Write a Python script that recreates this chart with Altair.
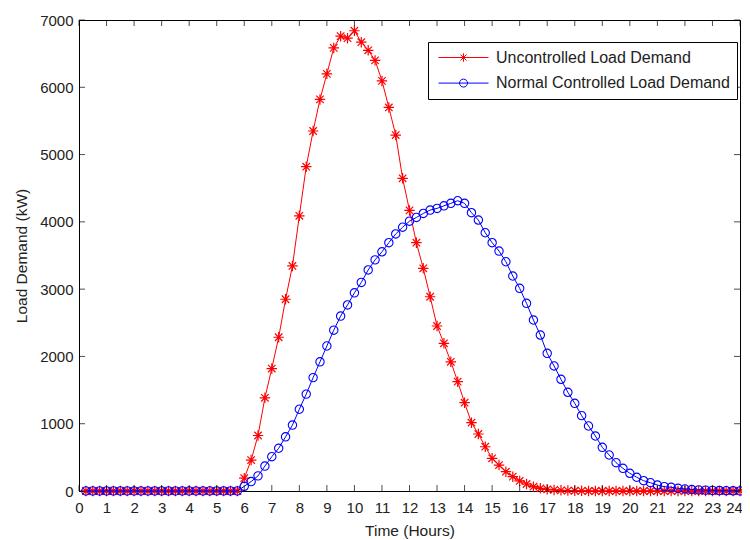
import altair as alt
import pandas as pd

UNC = "Uncontrolled Load Demand"
CTL = "Normal Controlled Load Demand"

# time grid, 15-minute steps from 0.25 h to 24 h
hours = [0.25 * i for i in range(1, 97)]

# Uncontrolled load demand (kW)
uncontrolled = [0] * 23 + [
    190, 460, 825, 1385, 1820, 2285, 2850, 3345, 4090, 4820,
    5350, 5820, 6200, 6585, 6760, 6730, 6840, 6670, 6550, 6400,
    6095, 5700, 5290, 4647, 4170, 3690, 3310, 2887, 2452, 2195,
    1920, 1625, 1312, 1015, 847, 658, 486, 386, 287, 213,
    149, 104, 64, 40, 25, 16, 10, 6, 4, 2,
] + [0] * 23

# Normal controlled load demand (kW)
controlled = [0] * 23 + [
    70, 140, 225, 370, 510, 635, 805, 980, 1215, 1440,
    1685, 1920, 2155, 2390, 2600, 2765, 2945, 3100, 3285, 3435,
    3555, 3690, 3820, 3920, 4010, 4065, 4125, 4175, 4200, 4238,
    4275, 4314, 4275, 4136, 4027, 3838, 3690, 3566, 3407, 3195,
    3012, 2789, 2541, 2318, 2046, 1858, 1660, 1467, 1303, 1120,
    966, 817, 649, 535, 421, 337, 263, 204, 153, 123,
    89, 64, 55, 40, 30, 22, 16, 12, 9, 6,
    4, 3, 2,
]

x_ticks = list(range(0, 25))
y_ticks = list(range(0, 7001, 1000))

series_names = [UNC, CTL]
series_colors = ["#ff0000", "#0000ff"]

STAR = "M-1,0L1,0M0,-1L0,1M-0.71,-0.71L0.71,0.71M-0.71,0.71L0.71,-0.71"
LEG_STAR = "M-1,0L1,0M-0.17,0L0.17,0M0,-0.17L0,0.17M-0.12,-0.12L0.12,0.12M-0.12,0.12L0.12,-0.12"
LEG_CIRC = "M-1,0L1,0M-0.16,0A0.16,0.16 0 1,0 0.16,0A0.16,0.16 0 1,0 -0.16,0"

df = pd.DataFrame({
    "t": hours + hours,
    "value": uncontrolled + controlled,
    "series": [UNC] * len(hours) + [CTL] * len(hours),
})
xt_df = pd.DataFrame({"xt": x_ticks})
yt_df = pd.DataFrame({"yt": y_ticks})

TXT = "#222222"
x_scale = alt.Scale(domain=[0, 24], nice=False, zero=False)
y_scale = alt.Scale(domain=[0, 7000], nice=False)

x_axis = alt.Axis(values=x_ticks, title="Time (Hours)", tickSize=0, labelPadding=9,
                  titlePadding=8, labelFlush=False, labelOverlap=False, grid=False, format="d",
                  labelOffset={"condition": {"test": "datum.value == 24", "value": -6}, "value": 0},
                  domainColor="black", domainWidth=1, labelFontSize=15, titleFontSize=15.5,
                  titleFontWeight="normal", labelColor=TXT, titleColor=TXT)
y_axis = alt.Axis(values=y_ticks, title="Load Demand (kW)", tickSize=0, labelPadding=6,
                  titlePadding=10, labelFlush=False, labelOverlap=False, grid=False, format="d",
                  domainColor="black", domainWidth=1, labelFontSize=15, titleFontSize=15.5,
                  titleFontWeight="normal", labelColor=TXT, titleColor=TXT)

x_enc = alt.X("t:Q", scale=x_scale, axis=x_axis, title="Time (Hours)")
y_enc = alt.Y("value:Q", scale=y_scale, axis=y_axis, title="Load Demand (kW)")

base = alt.Chart(df)

red_line = base.transform_filter(alt.datum.series == UNC).mark_line(
    color="#ff0000", strokeWidth=1).encode(x=x_enc, y=y_enc)
red_pts = base.transform_filter(alt.datum.series == UNC).mark_point(
    shape=STAR, filled=False, size=110, color="#ff0000", strokeWidth=1.2, opacity=1
).encode(x=x_enc, y=y_enc)
blue_line = base.transform_filter(alt.datum.series == CTL).mark_line(
    color="#0000ff", strokeWidth=1).encode(x=x_enc, y=y_enc)
blue_pts = base.transform_filter(alt.datum.series == CTL).mark_point(
    shape="circle", filled=False, size=70, color="#0000ff", strokeWidth=1.1, opacity=1
).encode(x=x_enc, y=y_enc)

leg = alt.Legend(
    title=None, orient="none", legendX=349, legendY=22, direction="vertical",
    strokeColor="black", fillColor="white", padding=7, clipHeight=17, rowPadding=8.6,
    symbolSize=2500, symbolStrokeWidth=1, symbolOffset=3, labelOffset=7,
    labelFontSize=16, labelColor=TXT, labelLimit=400,
)
legend_layer = base.transform_filter("datum.value < 0").mark_point(
    filled=False, strokeWidth=1, opacity=1
).encode(
    x=x_enc, y=y_enc,
    color=alt.Color("series:N", scale=alt.Scale(domain=series_names, range=series_colors), legend=leg),
    shape=alt.Shape("series:N", scale=alt.Scale(domain=series_names, range=[LEG_STAR, LEG_CIRC]), legend=leg),
)

tx = alt.X("xt:Q", scale=x_scale, axis=x_axis, title="Time (Hours)")
ty = alt.Y("yt:Q", scale=y_scale, axis=y_axis, title="Load Demand (kW)")

tick_bottom = alt.Chart(xt_df).mark_tick(orient="vertical", size=6, thickness=1, color="black", yOffset=-3).encode(
    x=tx, y=alt.YDatum(0, scale=y_scale, axis=y_axis, title="Load Demand (kW)"))
tick_top = alt.Chart(xt_df).mark_tick(orient="vertical", size=6, thickness=1, color="black", yOffset=3).encode(
    x=tx, y=alt.YDatum(7000, scale=y_scale, axis=y_axis, title="Load Demand (kW)"))
tick_left = alt.Chart(yt_df).mark_tick(orient="horizontal", size=6, thickness=1, color="black", xOffset=3).encode(
    y=ty, x=alt.XDatum(0, scale=x_scale, axis=x_axis, title="Time (Hours)"))
tick_right = alt.Chart(yt_df).mark_tick(orient="horizontal", size=6, thickness=1, color="black", xOffset=-3).encode(
    y=ty, x=alt.XDatum(24, scale=x_scale, axis=x_axis, title="Time (Hours)"))

chart = alt.layer(
    red_line, red_pts, blue_line, blue_pts, legend_layer,
    tick_bottom, tick_top, tick_left, tick_right,
).properties(
    width=661, height=471,
    padding={"left": 71, "top": 12, "right": 2, "bottom": 48},
    autosize=alt.AutoSizeParams(type="none"),
).configure(font="Liberation Sans").configure_view(stroke="black", strokeWidth=1)

chart.save("out.html", embed_options={"renderer": "svg", "actions": False})
